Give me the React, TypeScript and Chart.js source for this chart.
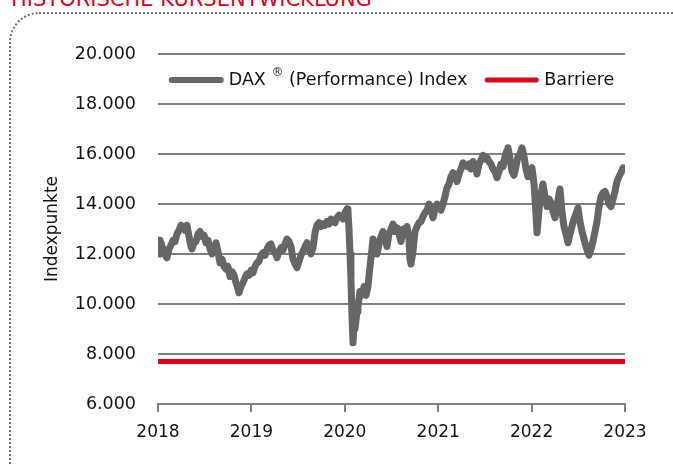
import React, { useEffect, useRef } from "react";
import { Chart, registerables } from "chart.js";

Chart.register(...registerables);

const titleText = "HISTORISCHE KURSENTWICKLUNG";
const yAxisTitle = "Indexpunkte";
const daxLabel = "DAX ® (Performance) Index";
const barrierLabel = "Barriere";

const xMin = 2018;
const xMax = 2023;
const yMin = 6000;
const yMax = 20000;
const yStep = 2000;

const barrierLevel = 7700;
const barrierDates = [2018, 2023];

const daxDates = [
  2018.0, 2018.011, 2018.021, 2018.032, 2018.043, 2018.064, 2018.086, 2018.096, 2018.118, 2018.139,
  2018.161, 2018.182, 2018.203, 2018.225, 2018.246, 2018.268, 2018.289, 2018.31, 2018.332, 2018.353,
  2018.364, 2018.385, 2018.407, 2018.428, 2018.45, 2018.471, 2018.493, 2018.514, 2018.535, 2018.557,
  2018.578, 2018.6, 2018.621, 2018.642, 2018.664, 2018.685, 2018.707, 2018.728, 2018.749, 2018.771,
  2018.792, 2018.814, 2018.835, 2018.857, 2018.867, 2018.889, 2018.91, 2018.931, 2018.953, 2018.974,
  2018.996,
  2019.017, 2019.039, 2019.06, 2019.081, 2019.103, 2019.124, 2019.146, 2019.167, 2019.188, 2019.21,
  2019.231, 2019.253, 2019.274, 2019.296, 2019.317, 2019.338, 2019.36, 2019.381, 2019.403, 2019.424,
  2019.445, 2019.467, 2019.488, 2019.51, 2019.531, 2019.552, 2019.574, 2019.595, 2019.617, 2019.638,
  2019.66, 2019.681, 2019.702, 2019.724, 2019.745, 2019.767, 2019.788, 2019.809, 2019.831, 2019.852,
  2019.874, 2019.895, 2019.916, 2019.938, 2019.959, 2019.981,
  2020.002, 2020.024, 2020.034, 2020.045, 2020.056, 2020.066, 2020.077, 2020.088, 2020.099, 2020.109,
  2020.131, 2020.141, 2020.163, 2020.184, 2020.206, 2020.227, 2020.248, 2020.27, 2020.291, 2020.302,
  2020.323, 2020.345, 2020.366, 2020.388, 2020.409, 2020.43, 2020.452, 2020.473, 2020.495, 2020.516,
  2020.537, 2020.559, 2020.58, 2020.602, 2020.623, 2020.644, 2020.666, 2020.687, 2020.698, 2020.709,
  2020.73, 2020.752, 2020.773, 2020.794, 2020.816, 2020.837, 2020.859, 2020.88, 2020.901, 2020.923,
  2020.944, 2020.966, 2020.987,
  2021.009, 2021.03, 2021.051, 2021.073, 2021.094, 2021.116, 2021.137, 2021.158, 2021.18, 2021.201,
  2021.223, 2021.244, 2021.266, 2021.287, 2021.308, 2021.33, 2021.351, 2021.373, 2021.394, 2021.415,
  2021.437, 2021.458, 2021.48, 2021.501, 2021.522, 2021.544, 2021.565, 2021.587, 2021.608, 2021.63,
  2021.651, 2021.672, 2021.694, 2021.715, 2021.737, 2021.747, 2021.769, 2021.79, 2021.812, 2021.833,
  2021.854, 2021.876, 2021.897, 2021.919, 2021.94, 2021.961, 2021.983,
  2022.004, 2022.026, 2022.047, 2022.058, 2022.069, 2022.09, 2022.111, 2022.122, 2022.143, 2022.165,
  2022.186, 2022.208, 2022.229, 2022.251, 2022.272, 2022.293, 2022.304, 2022.325, 2022.347, 2022.368,
  2022.39, 2022.411, 2022.432, 2022.454, 2022.475, 2022.497, 2022.518, 2022.54, 2022.561, 2022.582,
  2022.604, 2022.615, 2022.636, 2022.657, 2022.679, 2022.7, 2022.722, 2022.743, 2022.764, 2022.786,
  2022.807, 2022.829, 2022.85, 2022.872, 2022.893, 2022.914, 2022.936, 2022.957, 2022.979,
];

const daxValues = [
  12400, 12550, 12000, 12450, 12300, 12150, 11900, 11850, 12200, 12350,
  12550, 12500, 12800, 12950, 13150, 13050, 12950, 13150, 12700, 12300,
  12200, 12450, 12500, 12800, 12900, 12700, 12750, 12450, 12550, 12200,
  12000, 12250, 12450, 12100, 11650, 11800, 11500, 11400, 11500, 11100,
  11300, 11150, 10850, 10600, 10450, 10700, 10850, 11050, 11200, 11150,
  11350,
  11250, 11500, 11650, 11700, 11950, 12050, 11950, 12200, 12350, 12400,
  12150, 12050, 11850, 12100, 12250, 12150, 12400, 12600, 12500, 12300,
  11800, 11600, 11450, 11700, 11950, 12100, 12300, 12450, 12200, 12000,
  12250, 12850, 13150, 13250, 13100, 13200, 13150, 13300, 13200, 13400,
  13300, 13250, 13450, 13550, 13500, 13400,
  13650, 13800, 13700, 13000, 12000, 11000, 9500, 8450, 9200, 9000,
  9700, 9900, 10500, 10350, 10700, 10350, 10700, 11500, 12200, 12600,
  12300, 12000, 12400, 12700, 12900, 12600, 12300, 12800, 13000, 13200,
  12900, 13050, 12800, 12500, 13000, 12900, 13100, 12600, 11800, 11600,
  12100, 12900, 13100, 13250, 13300, 13500, 13650, 13750, 14000, 13800,
  13450, 13800, 14000,
  13900, 13750, 14000, 14300, 14650, 14800, 15100, 15250, 15200, 14900,
  15200, 15400, 15650, 15550, 15500, 15600, 15400, 15700, 15550, 15200,
  15600, 15750, 15950, 15800, 15850, 15700, 15600, 15400, 15300, 15050,
  15300, 15600, 15500, 15900, 16150, 16250, 15800, 15300, 15150, 15500,
  15900, 16000, 16250, 15900, 15400, 15100, 15300,
  15450, 14800, 13600, 12850, 13300, 14200, 14600, 14800, 14300, 13900,
  14200, 14050, 13700, 13450, 13900, 14400, 14600, 13700, 13100, 12800,
  12450, 12800, 13100, 13400, 13600, 13850, 13300, 12900, 12600, 12300,
  12050, 11950, 12200, 12500, 12900, 13300, 13900, 14300, 14450, 14500,
  14300, 14000, 13900, 14200, 14500, 14900, 15100, 15250, 15450,
];

const FONT = '"DejaVu Sans", sans-serif';
const TEXT_COLOR = "#141414";
const GRID_COLOR = "#808080";
const DAX_COLOR = "#666666";
const BARRIER_COLOR = "#e2001a";

const formatThousands = (v: number) =>
  String(Math.round(v)).replace(/\B(?=(\d{3})+(?!\d))/g, ".");

const insideLegend = {
  id: "insideLegend",
  afterDraw(chart: any) {
    const { ctx, chartArea } = chart;
    const font = `17.5px ${FONT}`;
    const supFont = `12px ${FONT}`;
    const sample = 55;
    const gap = 5;
    const itemGap = 17;
    ctx.save();
    const items = chart.data.datasets.map((ds: any) => {
      const parts = String(ds.label).split("®");
      ctx.font = font;
      let w = ctx.measureText(parts[0]).width;
      let supW = 0;
      if (parts.length > 1) {
        ctx.font = supFont;
        supW = ctx.measureText("®").width;
        ctx.font = font;
        w += supW + ctx.measureText(parts[1]).width;
      }
      return { ds, parts, w, supW };
    });
    const total =
      items.reduce((s: number, it: any) => s + sample + gap + it.w, 0) +
      itemGap * (items.length - 1);
    let x = (chartArea.left + chartArea.right) / 2 - total / 2;
    const y = chartArea.top + 26;
    for (const it of items) {
      const lw = it.ds.borderWidth;
      ctx.strokeStyle = it.ds.borderColor;
      ctx.lineWidth = Math.min(lw, 6);
      ctx.lineCap = "round";
      ctx.beginPath();
      ctx.moveTo(x + 3, y);
      ctx.lineTo(x + sample - 3, y);
      ctx.stroke();
      x += sample + gap;
      ctx.fillStyle = TEXT_COLOR;
      ctx.textBaseline = "middle";
      ctx.textAlign = "left";
      ctx.font = font;
      ctx.fillText(it.parts[0], x, y);
      x += ctx.measureText(it.parts[0]).width;
      if (it.parts.length > 1) {
        ctx.font = supFont;
        ctx.fillText("®", x, y - 7);
        x += it.supW;
        ctx.font = font;
        ctx.fillText(it.parts[1], x, y);
        x += ctx.measureText(it.parts[1]).width;
      }
      x += itemGap;
    }
    ctx.restore();
  },
};

export default function App() {
  const canvasRef = useRef<HTMLCanvasElement | null>(null);

  useEffect(() => {
    if (!canvasRef.current) return;
    Chart.defaults.font.family = FONT;
    const chart = new Chart(canvasRef.current, {
      type: "line",
      data: {
        datasets: [
          {
            label: daxLabel,
            data: daxDates.map((d, i) => ({ x: d, y: daxValues[i] })),
            borderColor: DAX_COLOR,
            backgroundColor: DAX_COLOR,
            borderWidth: 7,
            borderJoinStyle: "round",
            borderCapStyle: "round",
            pointRadius: 0,
            tension: 0,
            fill: false,
          },
          {
            label: barrierLabel,
            data: barrierDates.map((d) => ({ x: d, y: barrierLevel })),
            borderColor: BARRIER_COLOR,
            backgroundColor: BARRIER_COLOR,
            borderWidth: 5,
            borderCapStyle: "round",
            pointRadius: 0,
            fill: false,
          },
        ],
      },
      options: {
        responsive: false,
        animation: false,
        layout: { padding: { left: 42, right: 48, top: 54, bottom: 0 } },
        plugins: {
          legend: { display: false },
          tooltip: { enabled: false },
          title: { display: false },
        },
        scales: {
          x: {
            type: "linear",
            min: xMin,
            max: xMax,
            ticks: {
              stepSize: 1,
              padding: 10,
              color: TEXT_COLOR,
              font: { size: 17, family: FONT },
              maxRotation: 0,
              autoSkip: false,
              callback: (v: any) => String(v),
            },
            grid: {
              drawOnChartArea: false,
              drawTicks: true,
              tickLength: 8,
              color: GRID_COLOR,
              lineWidth: 2,
            },
            border: { display: true, color: GRID_COLOR, width: 2 },
            afterFit: (s: any) => {
              s.height = 62;
            },
          },
          y: {
            min: yMin,
            max: yMax,
            ticks: {
              stepSize: yStep,
              padding: 22,
              color: TEXT_COLOR,
              font: { size: 17.5, family: FONT },
              callback: (v: any) => formatThousands(Number(v)),
            },
            grid: { color: GRID_COLOR, lineWidth: 2, drawTicks: false },
            border: { display: false },
            title: {
              display: true,
              text: yAxisTitle,
              color: TEXT_COLOR,
              font: { size: 17, family: FONT },
              padding: 0,
            },
            afterFit: (s: any) => {
              s.width = 116;
            },
          },
        },
      } as any,
      plugins: [insideLegend],
    });
    return () => chart.destroy();
  }, []);

  return (
    <div
      style={{
        position: "fixed",
        left: 0,
        top: 0,
        width: 673,
        height: 466,
        overflow: "hidden",
        background: "#ffffff",
      }}
    >
      <div
        style={{
          position: "absolute",
          left: 11,
          top: -11,
          fontFamily: FONT,
          fontSize: 21,
          lineHeight: "21px",
          color: BARRIER_COLOR,
          whiteSpace: "nowrap",
        }}
      >
        {titleText}
      </div>
      <div
        style={{
          position: "absolute",
          left: 9,
          top: 12,
          width: 800,
          height: 600,
          border: "2px dotted #707070",
          borderTopLeftRadius: 30,
          boxSizing: "border-box",
        }}
      />
      <canvas
        ref={canvasRef}
        width={673}
        height={466}
        style={{ position: "absolute", left: 0, top: 0, display: "block" }}
      />
    </div>
  );
}
